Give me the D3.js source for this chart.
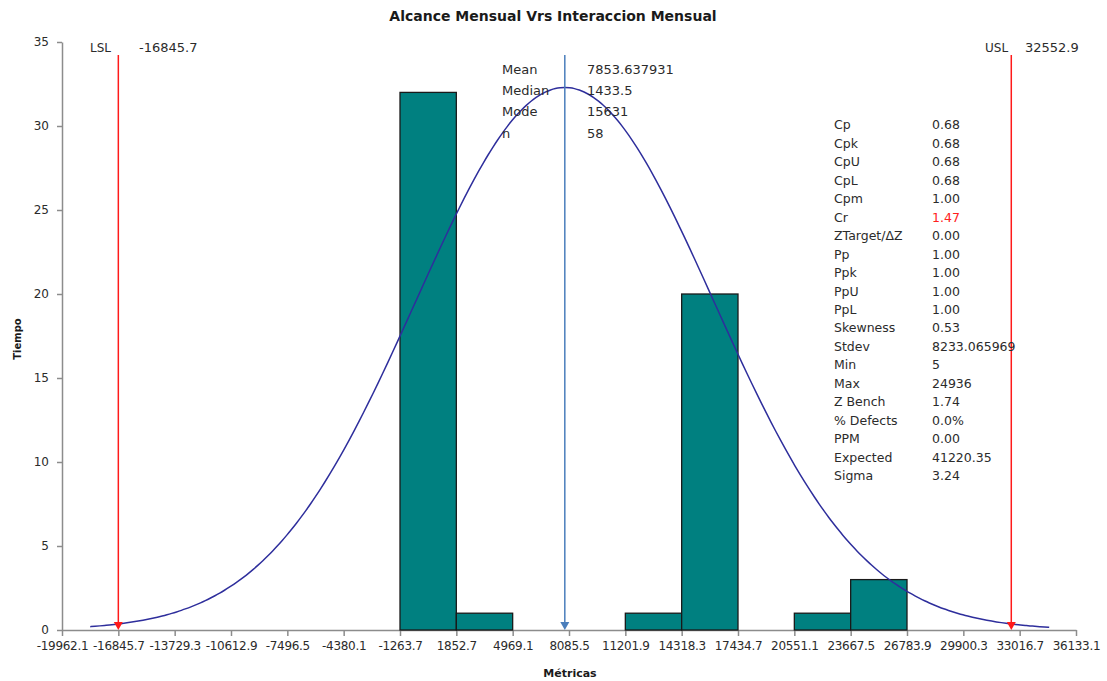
<!DOCTYPE html>
<html>
<head>
<meta charset="utf-8">
<script src="https://cdn.jsdelivr.net/npm/d3@7"></script>
<style>
  html, body { margin: 0; padding: 0; background: #fff; }
  svg { display: block; }
  text { font-family: "DejaVu Sans", Verdana, sans-serif; }
</style>
</head>
<body>
<svg id="chart" width="1107" height="681"></svg>
<script>
// Histogram bins (lower edge, upper edge) and frequencies
const binLower = [-1263.7, 1852.7, 11201.9, 14318.3, 20551.1, 23667.5];
const binUpper = [1852.7, 4969.1, 14318.3, 17434.7, 23667.5, 26783.9];
const binCounts = [32, 1, 1, 20, 1, 3];

// Axis ticks
const xTickValues = [-19962.1, -16845.7, -13729.3, -10612.9, -7496.5, -4380.1, -1263.7, 1852.7,
  4969.1, 8085.5, 11201.9, 14318.3, 17434.7, 20551.1, 23667.5, 26783.9, 29900.3, 33016.7, 36133.1];
const yTickValues = [0, 5, 10, 15, 20, 25, 30, 35];

// Specification limits and summary statistics
const lsl = -16845.7;
const usl = 32552.9;
const meanValue = 7853.637931;
const stdevValue = 8233.065969;
const curvePeak = 32.3;          // height of the fitted curve at the mean
const curveFrom = -18400;        // span of the fitted curve
const curveTo = 34650;

const topLabels = ["Mean", "Median", "Mode", "n"];
const topValues = ["7853.637931", "1433.5", "15631", "58"];

const sideLabels = ["Cp", "Cpk", "CpU", "CpL", "Cpm", "Cr", "ZTarget/\u0394Z", "Pp", "Ppk", "PpU", "PpL",
  "Skewness", "Stdev", "Min", "Max", "Z Bench", "% Defects", "PPM", "Expected", "Sigma"];
const sideValues = ["0.68", "0.68", "0.68", "0.68", "1.00", "1.47", "0.00", "1.00", "1.00", "1.00", "1.00",
  "0.53", "8233.065969", "5", "24936", "1.74", "0.0%", "0.00", "41220.35", "3.24"];

const svg = d3.select("#chart");

const x = d3.scaleLinear().domain([xTickValues[0], xTickValues[xTickValues.length - 1]]).range([62, 1076]);
const y = d3.scaleLinear().domain([0, 35]).range([630, 42]);

const axisColor = "#8c8c8c";
const textColor = "#2b2b2b";

// Title
svg.append("text")
  .attr("x", 553).attr("y", 21)
  .attr("text-anchor", "middle")
  .attr("font-size", 14).attr("font-weight", "bold")
  .attr("fill", "#1a1a1a")
  .text("Alcance Mensual Vrs Interaccion Mensual");

// Axes
const xAxis = svg.append("g")
  .attr("transform", `translate(0,${y(0)})`)
  .call(d3.axisBottom(x).tickValues(xTickValues).tickFormat(d => String(d)).tickSize(6).tickSizeOuter(0));
xAxis.select(".domain").attr("stroke", axisColor).attr("stroke-width", 1.5);
xAxis.selectAll(".tick line").attr("stroke", axisColor).attr("stroke-width", 1.5);
xAxis.selectAll(".tick text")
  .attr("font-family", "DejaVu Sans, sans-serif")
  .attr("font-size", 12).attr("fill", textColor).attr("dy", "0.9em")
  .attr("letter-spacing", "-0.3px");

const yAxis = svg.append("g")
  .attr("transform", `translate(${x(xTickValues[0])},0)`)
  .call(d3.axisLeft(y).tickValues(yTickValues).tickSize(5).tickSizeOuter(0));
yAxis.select(".domain").attr("stroke", axisColor).attr("stroke-width", 1.5);
yAxis.selectAll(".tick line").attr("stroke", axisColor).attr("stroke-width", 1.5);
yAxis.selectAll(".tick text")
  .attr("font-family", "DejaVu Sans, sans-serif")
  .attr("font-size", 12).attr("fill", textColor).attr("x", -13);

// Axis titles
svg.append("text")
  .attr("x", 570).attr("y", 677)
  .attr("text-anchor", "middle")
  .attr("font-size", 11).attr("font-weight", "bold").attr("fill", "#1a1a1a")
  .text("Métricas");
svg.append("text")
  .attr("transform", "translate(21,339) rotate(-90)")
  .attr("text-anchor", "middle")
  .attr("font-size", 10).attr("font-weight", "bold").attr("fill", "#1a1a1a")
  .text("Tiempo");

// Histogram bars
svg.append("g").selectAll("rect")
  .data(binCounts.map((c, i) => ({ lo: binLower[i], hi: binUpper[i], c })))
  .join("rect")
  .attr("x", d => x(d.lo))
  .attr("y", d => y(d.c))
  .attr("width", d => x(d.hi) - x(d.lo))
  .attr("height", d => y(0) - y(d.c))
  .attr("fill", "#008080")
  .attr("stroke", "#1a1a1a")
  .attr("stroke-width", 1.3);

// Fitted normal curve from the mean and standard deviation
const curvePts = d3.range(0, 201).map(i => {
  const v = curveFrom + (curveTo - curveFrom) * i / 200;
  const z = (v - meanValue) / stdevValue;
  return [v, curvePeak * Math.exp(-0.5 * z * z)];
});
svg.append("path")
  .datum(curvePts)
  .attr("fill", "none")
  .attr("stroke", "#2e2e9c")
  .attr("stroke-width", 1.5)
  .attr("d", d3.line().x(d => x(d[0])).y(d => y(d[1])).curve(d3.curveBasis));

// Vertical reference lines with arrowheads
function refLine(value, color) {
  const px = x(value);
  svg.append("line")
    .attr("x1", px).attr("x2", px)
    .attr("y1", 55).attr("y2", y(0) - 4)
    .attr("stroke", color).attr("stroke-width", 1.5);
  svg.append("path")
    .attr("d", `M${px - 4.5},${y(0) - 8} L${px + 4.5},${y(0) - 8} L${px},${y(0)} Z`)
    .attr("fill", color);
}
refLine(lsl, "#ff1a1a");
refLine(usl, "#ff1a1a");
refLine(meanValue, "#4a7ebb");

// Specification limit labels
svg.append("text").attr("x", 90).attr("y", 52).attr("font-size", 12).attr("fill", textColor).text("LSL");
svg.append("text").attr("x", 139).attr("y", 52).attr("font-size", 13).attr("fill", textColor).text(String(lsl));
svg.append("text").attr("x", 985).attr("y", 52).attr("font-size", 12).attr("fill", textColor).text("USL");
svg.append("text").attr("x", 1025).attr("y", 52).attr("font-size", 13).attr("fill", textColor).text(String(usl));

// Summary block near the mean
const topG = svg.append("g").attr("font-size", 13).attr("fill", textColor);
topLabels.forEach((lab, i) => {
  const ty = 69 + i * 21.4;
  topG.append("text").attr("x", 502).attr("y", ty).attr("dy", "0.35em").text(lab);
  topG.append("text").attr("x", 587).attr("y", ty).attr("dy", "0.35em").text(topValues[i]);
});

// Capability block on the right
const sideG = svg.append("g").attr("font-size", 12.5).attr("fill", textColor);
sideLabels.forEach((lab, i) => {
  const ty = 125 + i * 18.46;
  sideG.append("text").attr("x", 834).attr("y", ty).attr("dy", "0.35em").text(lab);
  sideG.append("text").attr("x", 932).attr("y", ty).attr("dy", "0.35em")
    .attr("fill", lab === "Cr" ? "#ff2020" : textColor)
    .text(sideValues[i]);
});
</script>
</body>
</html>
